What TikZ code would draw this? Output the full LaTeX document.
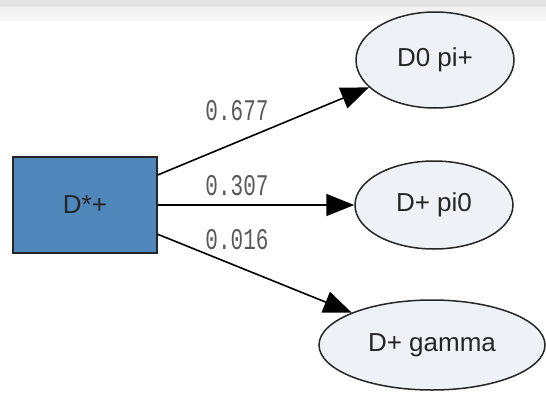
\documentclass[tikz,border=0pt]{standalone}
\usepackage{fontspec}
\setmainfont{Liberation Sans}
\newfontfamily\probfont[FakeStretch=0.7]{Liberation Mono}
\usetikzlibrary{arrows.meta,shapes.geometric}
\definecolor{boxblue}{HTML}{4F87BA}
\definecolor{nodefill}{HTML}{EEF2F7}

\begin{document}
\begin{tikzpicture}[x=1pt,y=-1pt,
    outcome/.style={ellipse, draw=black!85, line width=1.5pt, fill=nodefill, inner sep=0pt, text=black!85, font=\fontsize{26}{30}\selectfont},
    prob/.style={text=black!65, inner sep=0pt, font=\probfont\fontsize{30}{32}\selectfont},
    decay/.style={line width=1.6pt, -{Triangle[length=28pt,width=22pt]}}]
    % page and top strip
    \useasboundingbox (0,0) rectangle (546,394);
    \fill[white] (0,0) rectangle (546,394);
    \fill[black!11] (0,0) rectangle (546,7);
    \fill[black!5] (0,7) rectangle (546,14);
    \fill[black!3] (0,14) rectangle (546,21);

    \node[draw=black!85, line width=1.5pt, fill=boxblue, minimum width=144pt, minimum height=96pt, text=black!85, font=\fontsize{26}{30}\selectfont] (dstar) at (85,205) {D*+};
    \node[outcome, minimum width=158pt, minimum height=96pt] (dzpi) at (435,60) {D0 pi+};
    \node[outcome, minimum width=158pt, minimum height=88pt] (dppiz) at (434,205) {D+ pi0};
    \node[outcome, minimum width=226pt, minimum height=90pt] (dpgam) at (432,345) {D+ gamma};

    \draw[decay] (dstar) -- (dzpi);
    \draw[decay] (dstar) -- (dppiz);
    \draw[decay] (dstar) -- (dpgam);

    \node[prob] (bzpi) at (237,111) {0.677};
    \node[prob] (bppiz) at (237,186) {0.307};
    \node[prob] (bpgam) at (237,240) {0.016};
\end{tikzpicture}
\end{document}
